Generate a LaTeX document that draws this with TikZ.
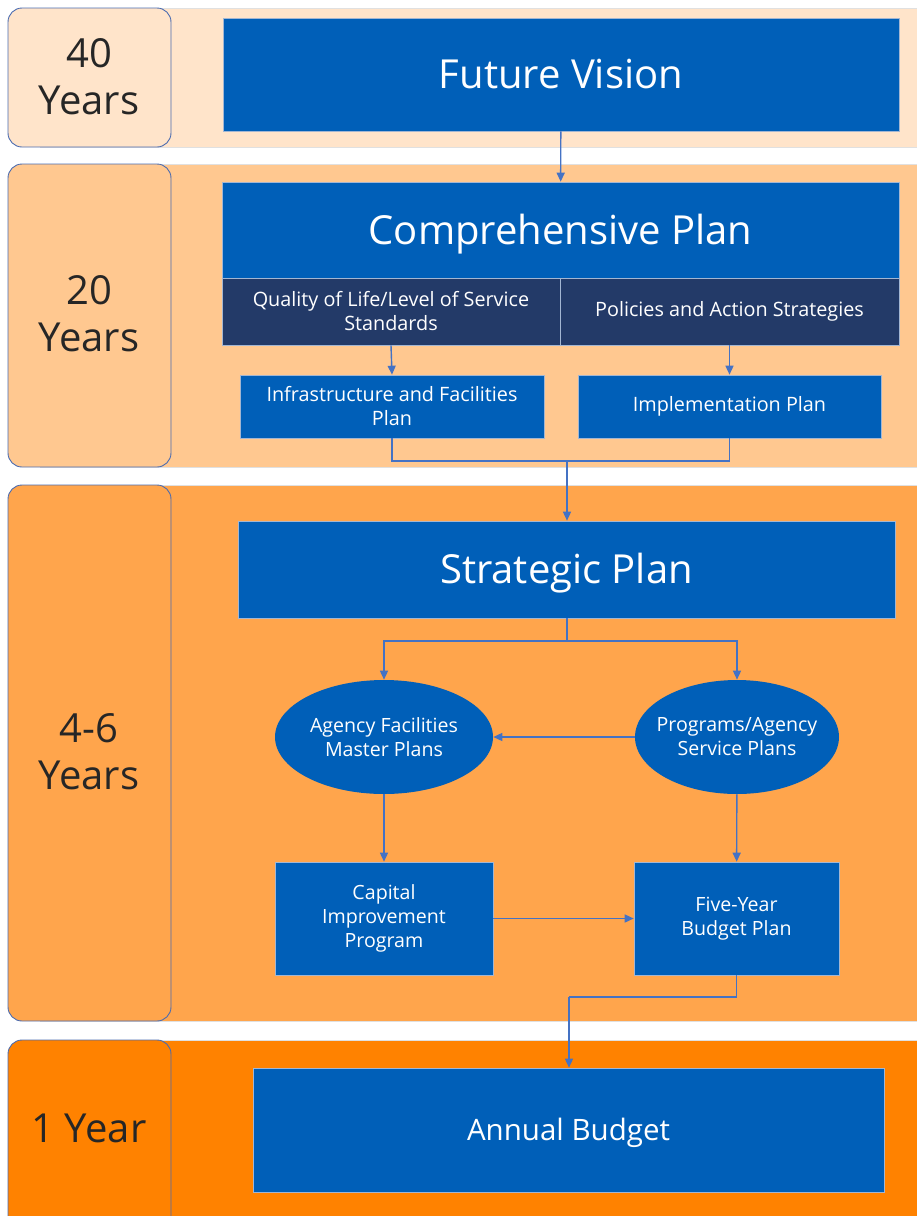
\documentclass[tikz,border=0pt]{standalone}
\usepackage{fontspec}
\setmainfont{Open Sans}
\usetikzlibrary{arrows.meta,shapes.geometric}

\definecolor{bandA}{HTML}{FFE4CA}
\definecolor{bandB}{HTML}{FFC890}
\definecolor{bandC}{HTML}{FFA54C}
\definecolor{bandD}{HTML}{FF8200}
\definecolor{planblue}{HTML}{005FB8}
\definecolor{plannavy}{HTML}{233A68}
\definecolor{linkblue}{HTML}{4472C4}
\definecolor{tagedge}{HTML}{4A6BB0}
\definecolor{boxedge}{HTML}{A3B6D2}

\tikzset{
	band/.style={draw=black!12, line width=0.6pt},
	tag/.style={draw=tagedge, line width=0.9pt, rounded corners=14pt, text=black!85, align=center, font=\fontsize{40}{47}\selectfont},
	plan/.style={draw=boxedge, line width=0.6pt, fill=planblue, text=white, align=center, inner sep=0pt},
	title/.style={font=\fontsize{40}{46}\selectfont, text height=28.5pt, text depth=0pt},
	subplan/.style={plan, fill=plannavy},
	planoval/.style={plan, ellipse, draw=none, inner sep=-30pt},
	link/.style={draw=linkblue, line width=1.4pt, -{Triangle[length=9pt,width=8pt]}},
	flat/.style={draw=linkblue, line width=1.4pt}
}

\begin{document}
\begin{tikzpicture}[x=1pt,y=-1pt]
		%%%%% START %%%%%
		\useasboundingbox (0,0) rectangle (917,1216);
		
		% time bands
		\draw[band, fill=bandA] (40, 8) rectangle (930, 147);
		\draw[band, fill=bandB] (40, 164) rectangle (930, 467);
		\draw[band, fill=bandC] (40, 485) rectangle (930, 1021);
		\draw[band, fill=bandD] (40, 1040) rectangle (930, 1230);
		
		\draw[tag, fill=bandA] (8, 8) rectangle (171, 147);
		\draw[tag, fill=bandB] (8, 164) rectangle (171, 467);
		\draw[tag, fill=bandC] (8, 485) rectangle (171, 1021);
		\draw[tag, fill=bandD] (8, 1040) rectangle (171, 1245);
		
		\node[tag, draw=none] (forty) at (89, 77) {40\\Years};
		\node[tag, draw=none] (twenty) at (89, 314) {20\\Years};
		\node[tag, draw=none] (four) at (89, 752) {4-6\\Years};
		\node[tag, draw=none] (one) at (89, 1128) {1 Year};
		
		% plans
		\node[plan, title, minimum width=676pt, minimum height=113pt] (vision) at (561, 74.5) {Future Vision};
		\node[plan, title, minimum width=677pt, minimum height=96pt] (comp) at (560.5, 230) {Comprehensive Plan};
		\node[subplan, minimum width=338pt, minimum height=67pt, font=\fontsize{19.8}{24}\selectfont] (quality) at (391, 311.5) {Quality of Life/Level of Service\\Standards};
		\node[subplan, minimum width=339pt, minimum height=67pt, font=\fontsize{19.8}{24}\selectfont] (policy) at (729.5, 311.5) {Policies and Action Strategies};
		\node[plan, minimum width=304pt, minimum height=63pt, font=\fontsize{19.8}{24}\selectfont] (infra) at (392, 406.5) {Infrastructure and Facilities\\Plan};
		\node[plan, minimum width=303pt, minimum height=63pt, font=\fontsize{19.8}{24}\selectfont] (impl) at (729.5, 406.5) {Implementation Plan};
		
		\node[plan, title, minimum width=657pt, minimum height=97pt] (strat) at (566.5, 569.5) {Strategic Plan};
		\node[planoval, minimum width=218pt, minimum height=114pt, font=\fontsize{19.6}{24}\selectfont] (agency) at (384, 737) {Agency Facilities\\Master Plans};
		\node[planoval, minimum width=204pt, minimum height=114pt, font=\fontsize{19.6}{24}\selectfont] (service) at (737, 737) {Programs/Agency\\Service Plans};
		\node[plan, minimum width=218pt, minimum height=113pt, font=\fontsize{19.6}{24}\selectfont] (capital) at (384, 918.5) {Capital\\Improvement\\Program};
		\node[plan, minimum width=205pt, minimum height=113pt, font=\fontsize{19.6}{24}\selectfont] (fiveyear) at (736.5, 918.5) {Five-Year\\Budget Plan};
		
		\node[plan, minimum width=631pt, minimum height=124pt, font=\fontsize{29.5}{36}\selectfont, text height=21pt, text depth=0pt] (annual) at (568.5, 1130) {Annual Budget};
		
		% links
		\draw[link] (vision) -- (comp);
		\coordinate (join) at (567, 461);
		\draw[link] (quality.south) -- (infra.north);
		\draw[link] (policy.south) -- (impl.north);
		\draw[flat] (infra.south) |- (join) -| (impl.south);
		\draw[link] (join) -- (strat.north -| join);
		
		\coordinate (fork) at (567, 641);
		\draw[flat] (strat.south -| fork) -- (fork);
		\draw[link] (fork) -| (agency.north);
		\draw[link] (fork) -| (service.north);
		\draw[link] (service) -- (agency);
		\draw[link] (agency) -- (capital);
		\draw[link] (service) -- (fiveyear);
		\draw[link] (capital) -- (fiveyear);
		
		\coordinate (drop) at (569, 997);
		\draw[flat] (fiveyear.south) |- (drop);
		\draw[link] (drop) -- (annual.north -| drop);
		%%%%% END %%%%%
	\end{tikzpicture}
\end{document}
